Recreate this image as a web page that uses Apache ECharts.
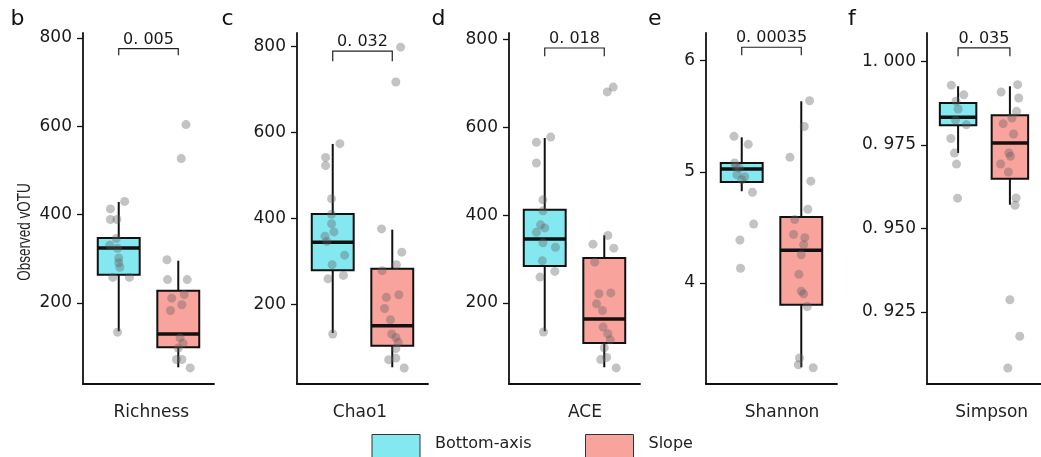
<!DOCTYPE html>
<html>
<head>
<meta charset="utf-8">
<script src="https://cdn.jsdelivr.net/npm/echarts@6/dist/echarts.min.js"></script>
<style>
  html, body { margin: 0; padding: 0; background: #ffffff; }
  #chart { width: 1041px; height: 457px; }
</style>
</head>
<body>
<div id="chart"></div>
<script>
// ---- data -------------------------------------------------------------
const groups = ['Bottom-axis', 'Slope'];
const metrics = ['Richness', 'Chao1', 'ACE', 'Shannon', 'Simpson'];
const panelLetters = ['b', 'c', 'd', 'e', 'f'];
const pValues = ['0. 005', '0. 032', '0. 018', '0. 00035', '0. 035'];

// box statistics: [lower whisker, Q1, median, Q3, upper whisker]
const richnessBox = [[136, 264, 324.5, 347, 428.7], [54.4, 99.7, 129.8, 227.9, 295.8]];
const chao1Box    = [[134.3, 279.9, 345, 410.7, 573.3], [54.6, 104.8, 151.2, 283.6, 374.2]];
const aceBox      = [[135.5, 284.3, 345.8, 412.6, 575.9], [53.5, 108.9, 163.5, 302.5, 354.2]];
const shannonBox  = [[4.825, 4.908, 5.025, 5.079, 5.31], [3.242, 3.805, 4.294, 4.594, 5.634]];
const simpsonBox  = [[0.97258, 0.98086, 0.98326, 0.98754, 0.99254], [0.9571, 0.96489, 0.97557, 0.98386, 0.99254]];

// per-sample values and their horizontal jitter (in group units)
const richnessBottom = [430, 413, 389, 389, 346, 331, 324, 302, 291, 281, 258, 258, 134];
const richnessBottomJitter = [0.10, -0.14, -0.14, -0.03, -0.04, -0.15, -0.02, 0, 0, 0.02, -0.10, 0.18, -0.02];
const richnessSlope = [604, 527, 298, 253, 253, 211, 219, 196, 183, 121, 109, 98, 72, 72, 53];
const richnessSlopeJitter = [0.13, 0.05, -0.19, -0.18, 0.15, -0.11, 0.10, 0.06, -0.13, 0.03, 0.08, 0, -0.03, 0.06, 0.2];

const chao1Bottom = [574, 542, 523, 446, 410, 388, 369, 359, 347, 315, 293, 268, 260, 132];
const chao1BottomJitter = [0.12, -0.12, -0.12, -0.02, -0.02, -0.02, 0.02, -0.13, -0.1, 0.2, -0.01, 0.18, -0.08, 0];
const chao1Slope = [798, 717, 376, 322, 293, 279, 217, 223, 191, 165, 132, 124, 113, 98, 72, 76, 53];
const chao1SlopeJitter = [0.14, 0.06, -0.18, 0.16, 0.07, -0.17, -0.1, 0.11, -0.13, -0.03, -0.01, 0.06, 0.1, 0.06, -0.06, 0.06, 0.2];

const aceBottom = [578, 566, 519, 435, 410, 378, 371, 361, 337, 327, 296, 259, 272, 134];
const aceBottomJitter = [0.10, -0.14, -0.14, -0.03, -0.03, -0.07, 0, -0.14, -0.03, 0.18, -0.04, -0.08, 0.17, -0.02];
const aceSlope = [681, 692, 354, 334, 325, 293, 221, 223, 198, 183, 145, 130, 116, 98, 71, 76, 52];
const aceSlopeJitter = [0.05, 0.15, 0.06, -0.19, 0.16, -0.16, -0.09, 0.11, -0.13, -0.03, -0.02, 0.06, 0.1, 0, -0.06, 0.04, 0.2];

const shannonBottom = [5.319, 5.247, 5.08, 5.05, 5.034, 4.974, 4.956, 4.929, 4.816, 4.53, 4.387, 4.133];
const shannonBottomJitter = [-0.13, 0.11, -0.12, -0.1, -0.04, -0.08, 0.05, 0, 0.18, 0.2, -0.03, -0.02];
const shannonSlope = [5.639, 5.407, 5.13, 4.916, 4.663, 4.57, 4.437, 4.408, 4.345, 4.254, 4.078, 3.927, 3.902, 3.789, 3.326, 3.265, 3.238];
const shannonSlopeJitter = [0.14, 0.05, -0.19, 0.16, 0.11, -0.11, -0.13, 0.06, 0.04, 0, -0.04, 0, 0.04, 0.1, -0.03, -0.05, 0.2];

const simpsonBottom = [0.99288, 0.98998, 0.98804, 0.98574, 0.98245, 0.98100, 0.97692, 0.97254, 0.96925, 0.95907];
const simpsonBottomJitter = [-0.13, 0.11, -0.04, 0.0, -0.05, 0.16, -0.14, -0.07, -0.03, -0.01];
const simpsonSlope = [0.99083, 0.99302, 0.98903, 0.98505, 0.98305, 0.98135, 0.97826, 0.97258, 0.97159, 0.96929, 0.96689, 0.95911, 0.95693, 0.92868, 0.91773, 0.90824];
const simpsonSlopeJitter = [-0.17, 0.15, 0.17, 0.13, 0.04, -0.13, 0.07, -0.02, 0.01, -0.18, -0.03, 0.12, 0.1, 0, 0.19, -0.04];

// significance brackets: [bar level, tip level]
const richnessBracket = [775.7, 760.8];
const chao1Bracket    = [788.6, 765.4];
const aceBracket      = [781, 762.1];
const shannonBracket  = [6.12, 6.048];
const simpsonBracket  = [1.004, 1.0015];

// tick values and labels
const countTicks = [200, 400, 600, 800];
const countTickLabels = ['200', '400', '600', '800'];
const shannonTicks = [4, 5, 6];
const shannonTickLabels = ['4', '5', '6'];
const simpsonTicks = [0.925, 0.95, 0.975, 1.0];
const simpsonTickLabels = ['0. 925', '0. 950', '0. 975', '1. 000'];

// ---- layout -----------------------------------------------------------
const FONT = 'DejaVu Sans';
const fills = ['#84E8F0', '#F9A39D'];
const axisColor = '#111111';
const panelLeft = [83, 297, 509, 706, 927];
const panelTop = 33, panelHeight = 351, panelWidth = 131;
const yRanges = [[16.6, 811.3], [15.8, 830.9], [15.4, 815.2], [3.092, 6.248], [0.90346, 1.00848]];
const letterX = [10.5, 221.5, 431.5, 648, 848];
const xLabelCenter = [151.3, 360, 585, 782, 991.7];
const BOX_HALF = 0.352;

const panels = [
  { box: richnessBox, pts: [richnessBottom, richnessSlope], jit: [richnessBottomJitter, richnessSlopeJitter], bracket: richnessBracket, ticks: countTicks, tickLabels: countTickLabels },
  { box: chao1Box, pts: [chao1Bottom, chao1Slope], jit: [chao1BottomJitter, chao1SlopeJitter], bracket: chao1Bracket, ticks: countTicks, tickLabels: countTickLabels },
  { box: aceBox, pts: [aceBottom, aceSlope], jit: [aceBottomJitter, aceSlopeJitter], bracket: aceBracket, ticks: countTicks, tickLabels: countTickLabels },
  { box: shannonBox, pts: [shannonBottom, shannonSlope], jit: [shannonBottomJitter, shannonSlopeJitter], bracket: shannonBracket, ticks: shannonTicks, tickLabels: shannonTickLabels },
  { box: simpsonBox, pts: [simpsonBottom, simpsonSlope], jit: [simpsonBottomJitter, simpsonSlopeJitter], bracket: simpsonBracket, ticks: simpsonTicks, tickLabels: simpsonTickLabels }
];

// ---- renderers ----------------------------------------------------------
function renderBox(fill) {
  return function (params, api) {
    const x = api.value(0);
    const lo = api.coord([x, api.value(1)]);
    const q1 = api.coord([x, api.value(2)]);
    const md = api.coord([x, api.value(3)]);
    const q3 = api.coord([x, api.value(4)]);
    const hi = api.coord([x, api.value(5)]);
    const half = api.size([BOX_HALF, 0])[0];
    const cx = lo[0];
    const stroke = { stroke: axisColor, lineWidth: 2 };
    return {
      type: 'group',
      children: [
        { type: 'line', shape: { x1: cx, y1: hi[1], x2: cx, y2: q3[1] }, style: stroke },
        { type: 'line', shape: { x1: cx, y1: q1[1], x2: cx, y2: lo[1] }, style: stroke },
        { type: 'rect', shape: { x: cx - half, y: q3[1], width: 2 * half, height: q1[1] - q3[1] },
          style: { fill: fill, stroke: axisColor, lineWidth: 2 } },
        { type: 'line', shape: { x1: cx - half, y1: md[1], x2: cx + half, y2: md[1] },
          style: { stroke: axisColor, lineWidth: 3.4 } }
      ]
    };
  };
}

function renderBracket(label) {
  return function (params, api) {
    const a = api.coord([api.value(0), api.value(2)]);
    const b = api.coord([api.value(1), api.value(2)]);
    const tipA = api.coord([api.value(0), api.value(3)]);
    const tipB = api.coord([api.value(1), api.value(3)]);
    return {
      type: 'group',
      children: [
        { type: 'polyline', shape: { points: [tipA, a, b, tipB] },
          style: { stroke: '#222', lineWidth: 1.2, fill: null } },
        { type: 'text', x: (a[0] + b[0]) / 2, y: a[1] - 1,
          style: { text: label, fill: '#1a1a1a', font: '16px "' + FONT + '"', align: 'center', verticalAlign: 'bottom' } }
      ]
    };
  };
}

// ---- option ---------------------------------------------------------------
const grid = [], xAxis = [], yAxis = [], series = [], graphic = [];

panels.forEach(function (p, i) {
  grid.push({ left: panelLeft[i], top: panelTop, width: panelWidth, height: panelHeight, containLabel: false });
  xAxis.push({
    gridIndex: i, type: 'value', min: 0.4, max: 2.6,
    axisLine: { show: true, onZero: false, lineStyle: { color: axisColor, width: 1.8 } },
    axisTick: { show: false }, axisLabel: { show: false }, splitLine: { show: false }
  });
  const tickVals = p.ticks, tickLabs = p.tickLabels;
  yAxis.push({
    gridIndex: i, type: 'value', min: yRanges[i][0], max: yRanges[i][1],
    axisLine: { show: true, onZero: false, lineStyle: { color: axisColor, width: 1.8 } },
    axisTick: { show: true, length: 6, customValues: tickVals, lineStyle: { color: axisColor, width: 1.3 } },
    axisLabel: {
      show: true, customValues: tickVals, margin: 11, fontSize: 17, fontFamily: FONT, color: '#1a1a1a',
      formatter: function (v) {
        let best = 0;
        tickVals.forEach(function (t, k) { if (Math.abs(t - v) < Math.abs(tickVals[best] - v)) best = k; });
        return tickLabs[best];
      }
    },
    splitLine: { show: false }
  });

  groups.forEach(function (g, gi) {
    series.push({
      name: g, type: 'custom', xAxisIndex: i, yAxisIndex: i,
      renderItem: renderBox(fills[gi]),
      itemStyle: { color: fills[gi] },
      encode: { x: 0, y: [1, 2, 3, 4, 5] },
      data: [[gi + 1].concat(p.box[gi])],
      z: 2, silent: true
    });
  });
  groups.forEach(function (g, gi) {
    series.push({
      name: g + ' samples', type: 'scatter', xAxisIndex: i, yAxisIndex: i,
      symbol: 'circle', symbolSize: 9,
      itemStyle: { color: 'rgba(95,95,95,0.47)' },
      data: p.pts[gi].map(function (v, k) { return [gi + 1 + p.jit[gi][k], v]; }),
      z: 3, silent: true
    });
  });
  series.push({
    name: 'p-value', type: 'custom', xAxisIndex: i, yAxisIndex: i,
    renderItem: renderBracket(pValues[i]), clip: false,
    data: [[1, 2, p.bracket[0], p.bracket[1]]], z: 4, silent: true
  });

  graphic.push({
    type: 'text', x: letterX[i], y: 19,
    style: { text: panelLetters[i], font: '22px "' + FONT + '"', fill: '#111', align: 'left', verticalAlign: 'middle' }
  });
  graphic.push({
    type: 'text', x: xLabelCenter[i], y: 412.5,
    style: { text: metrics[i], font: '17px "' + FONT + '"', fill: '#222', align: 'center', verticalAlign: 'middle' }
  });
});

graphic.push({
  type: 'text', x: 25, y: 232, rotation: Math.PI / 2, scaleY: 1.3,
  style: { text: 'Observed vOTU', font: '13.5px "Liberation Sans"', fill: '#222', align: 'center', verticalAlign: 'middle' }
});

// legend text sits in the upper half of the tall swatch: a blank second line lifts it
function legendFor(name, left) {
  return {
    left: left, top: 431.5, padding: 0, selectedMode: false,
    data: [{ name: name, icon: 'rect' }],
    itemWidth: 48, itemHeight: 44,
    formatter: function (n) { return n + '\n '; },
    itemStyle: { borderColor: '#333', borderWidth: 1 },
    textStyle: { fontFamily: FONT, fontSize: 16, lineHeight: 25, color: '#222', padding: [0, 0, 0, 10] }
  };
}

const option = {
  backgroundColor: '#ffffff',
  animation: false,
  textStyle: { fontFamily: FONT },
  grid: grid, xAxis: xAxis, yAxis: yAxis, series: series, graphic: graphic,
  legend: [legendFor(groups[0], 371.5), legendFor(groups[1], 585)]
};

const chart = echarts.init(document.getElementById('chart'));
chart.setOption(option);
</script>
</body>
</html>
